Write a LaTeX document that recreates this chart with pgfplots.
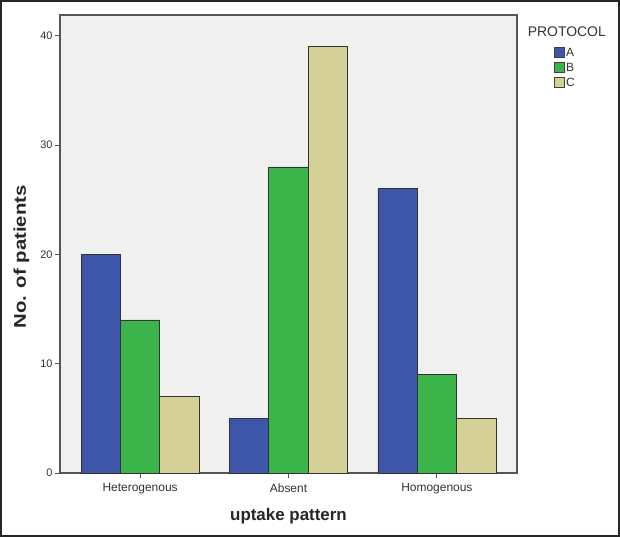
\documentclass[border=0pt]{standalone}
\usepackage{fontspec}
\setmainfont{Liberation Sans}
\usepackage{graphicx}
\usepackage{pgfplots}
\pgfplotsset{compat=1.18}
\definecolor{cA}{HTML}{3E56AA}
\definecolor{cB}{HTML}{3BB44A}
\definecolor{cC}{HTML}{D5D196}
\definecolor{bgc}{HTML}{F0F0F0}
\definecolor{axc}{HTML}{555555}
\definecolor{txt}{HTML}{333333}
\begin{document}
\begin{tikzpicture}
\useasboundingbox (0,0) rectangle (620bp,537bp);
\fill[white] (0,0) rectangle (620bp,537bp);
\begin{axis}[
  at={(60bp,64bp)}, anchor=south west,
  scale only axis, width=457bp, height=458bp,
  ybar=0pt, bar width=0.265,
  xmin=-0.54, xmax=2.54, ymin=0, ymax=41.9,
  axis background/.style={fill=bgc},
  axis line style={axc, line width=1.2pt},
  xtick={0,1,2}, xticklabels={Heterogenous,Absent,Homogenous},
  ytick={0,10,20,30,40},
  tick align=outside, tick pos=left,
  major tick length=5bp,
  tick style={axc, line width=1pt},
  /pgf/number format/assume math mode=true,
  ticklabel style={text=txt},
  xticklabel style={font=\fontsize{12}{13}\selectfont, yshift=-2bp},
  yticklabel style={font=\fontsize{11}{12}\selectfont, xshift=1bp},
  xlabel={\bfseries uptake pattern},
  ylabel={\scalebox{1.2}[1]{\bfseries No. of patients}},
  label style={font=\fontsize{17}{19}\selectfont, text=black!85},
  xlabel style={yshift=-7bp},
  ylabel style={at={(ticklabel cs:0.472)}, yshift=4bp},
  legend style={at={(1.081,0.930)}, anchor=north west, draw=none, fill=none,
    font=\fontsize{12}{13}\selectfont, text=txt, row sep=2bp,
    nodes={text height=8bp, text depth=2bp, inner sep=1.5bp},
    inner sep=0pt, outer sep=0pt},
  legend image code/.code={\draw[#1, draw=black!75, line width=0.6pt] (0bp,-4bp) rectangle (10bp,6bp);},
  legend cell align=left,
  clip=false,
]
\addplot[fill=cA, draw=black!80, line width=0.7pt] coordinates {(0,20) (1,5) (2,26)};
\addplot[fill=cB, draw=black!80, line width=0.7pt] coordinates {(0,14) (1,28) (2,9)};
\addplot[fill=cC, draw=black!80, line width=0.7pt] coordinates {(0,7) (1,39) (2,5)};
\legend{A,B,C}
\node[font=\fontsize{14}{15}\selectfont, text=txt, anchor=center] at (rel axis cs:1.109,0.963) {PROTOCOL};
\end{axis}
\draw[black!85, line width=2pt] (1bp,1bp) rectangle (619bp,536bp);
\end{tikzpicture}
\end{document}
